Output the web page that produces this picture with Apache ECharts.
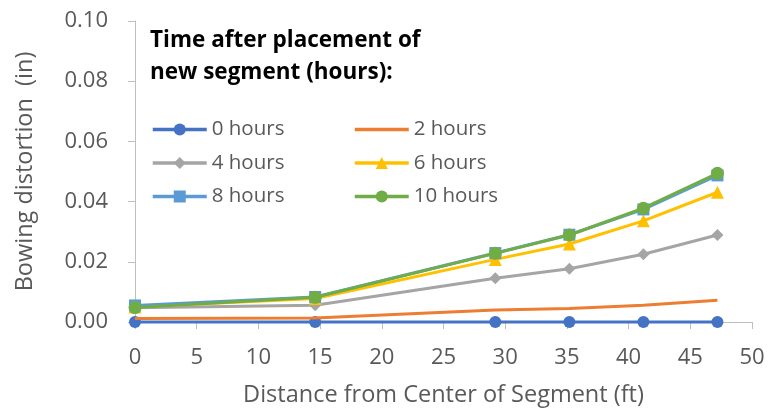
<!DOCTYPE html>
<html>
<head>
<meta charset="utf-8">
<script src="https://cdn.jsdelivr.net/npm/echarts@6/dist/echarts.min.js"></script>
<style>html,body{margin:0;padding:0;background:#fff}#c{width:770px;height:408px}</style>
</head>
<body>
<div id="c"></div>
<script>
const distances = [0, 14.6, 29.2, 35.2, 41.2, 47.2];
const seriesNames = ['0 hours', '2 hours', '4 hours', '6 hours', '8 hours', '10 hours'];
const hours0 = [0, 0, 0, 0, 0, 0];
const hours2 = [0.0012, 0.0013, 0.0040, 0.0045, 0.0056, 0.0072];
const hours4 = [0.0047, 0.0056, 0.0145, 0.0177, 0.0225, 0.0289];
const hours6 = [0.0050, 0.0078, 0.0208, 0.0259, 0.0336, 0.0431];
const hours8 = [0.0055, 0.0083, 0.0229, 0.0290, 0.0374, 0.0487];
const hours10 = [0.0048, 0.0082, 0.0228, 0.0289, 0.0378, 0.0494];
const xTicks = [0, 5, 10, 15, 20, 25, 30, 35, 40, 45, 50];
const yTicks = [0.00, 0.02, 0.04, 0.06, 0.08, 0.10];
const legendTitle = ['Time after placement of', 'new segment (hours):'];
const xTitle = 'Distance from Center of Segment (ft)';
const yTitle = 'Bowing distortion  (in)';

const FONT = 'Open Sans';
const TXT = '#595959';
const values = [hours0, hours2, hours4, hours6, hours8, hours10];
const colors = ['#4472C4', '#ED7D31', '#A5A5A5', '#FFC000', '#5B9BD5', '#70AD47'];
const symbols = ['circle', 'none', 'diamond', 'triangle', 'rect', 'circle'];
const sizes = [12, 0, 12, 13, 12, 13];

const series = values.map((v, i) => ({
  name: seriesNames[i],
  type: 'line',
  data: distances.map((d, j) => [d, v[j]]),
  symbol: symbols[i],
  symbolSize: sizes[i],
  showSymbol: symbols[i] !== 'none',
  clip: false,
  lineStyle: { color: colors[i], width: 3 },
  itemStyle: { color: colors[i] },
  z: 2 + i
}));

function legendData(idx) {
  return idx.map(i => symbols[i] === 'none'
    ? { name: seriesNames[i], itemStyle: { opacity: 0 } }
    : { name: seriesNames[i] });
}

const legendCommon = {
  orient: 'vertical',
  padding: 0,
  itemWidth: 54,
  itemHeight: 15,
  itemGap: 12.5,
  lineStyle: { width: 3.5 },
  textStyle: { fontFamily: FONT, fontSize: 20.5, color: TXT, lineHeight: 20 }
};

const chart = echarts.init(document.getElementById('c'), null, { renderer: 'canvas' });
chart.setOption({
  animation: false,
  backgroundColor: '#fff',
  grid: { left: 135, right: 18, top: 21, bottom: 86, containLabel: false, outerBoundsMode: 'none' },
  graphic: [
    { type: 'text', x: 150, y: 41, style: { text: legendTitle[0], font: 'bold 22.5px "Open Sans"', fill: '#000', verticalAlign: 'middle' } },
    { type: 'text', x: 150, y: 73, style: { text: legendTitle[1], font: 'bold 22.5px "Open Sans"', fill: '#000', verticalAlign: 'middle' } }
  ],
  legend: [
    Object.assign({}, legendCommon, { left: 151, top: 119, data: legendData([0, 2, 4]) }),
    Object.assign({}, legendCommon, { left: 353, top: 119, data: legendData([1, 3, 5]) })
  ],
  xAxis: {
    type: 'value', min: xTicks[0], max: xTicks[xTicks.length - 1], interval: 5,
    name: xTitle, nameLocation: 'middle', nameGap: 61,
    nameTextStyle: { fontFamily: FONT, fontSize: 23.5, color: TXT },
    axisLine: { show: true, lineStyle: { color: '#BFBFBF', width: 1 } },
    axisTick: { show: true, length: 7, lineStyle: { color: '#BFBFBF' } },
    axisLabel: { fontFamily: FONT, fontSize: 22, color: TXT, margin: 25 },
    splitLine: { show: false }
  },
  yAxis: {
    type: 'value', min: yTicks[0], max: yTicks[yTicks.length - 1], interval: 0.02,
    name: yTitle, nameLocation: 'middle', nameGap: 98, nameRotate: 90,
    nameTextStyle: { fontFamily: FONT, fontSize: 23.5, color: TXT },
    axisLine: { show: true, lineStyle: { color: '#BFBFBF', width: 1 } },
    axisTick: { show: true, length: 7, lineStyle: { color: '#BFBFBF' } },
    axisLabel: { fontFamily: FONT, fontSize: 22, color: TXT, margin: 27, formatter: v => v.toFixed(2) },
    splitLine: { show: false }
  },
  series: series
});
</script>
</body>
</html>
